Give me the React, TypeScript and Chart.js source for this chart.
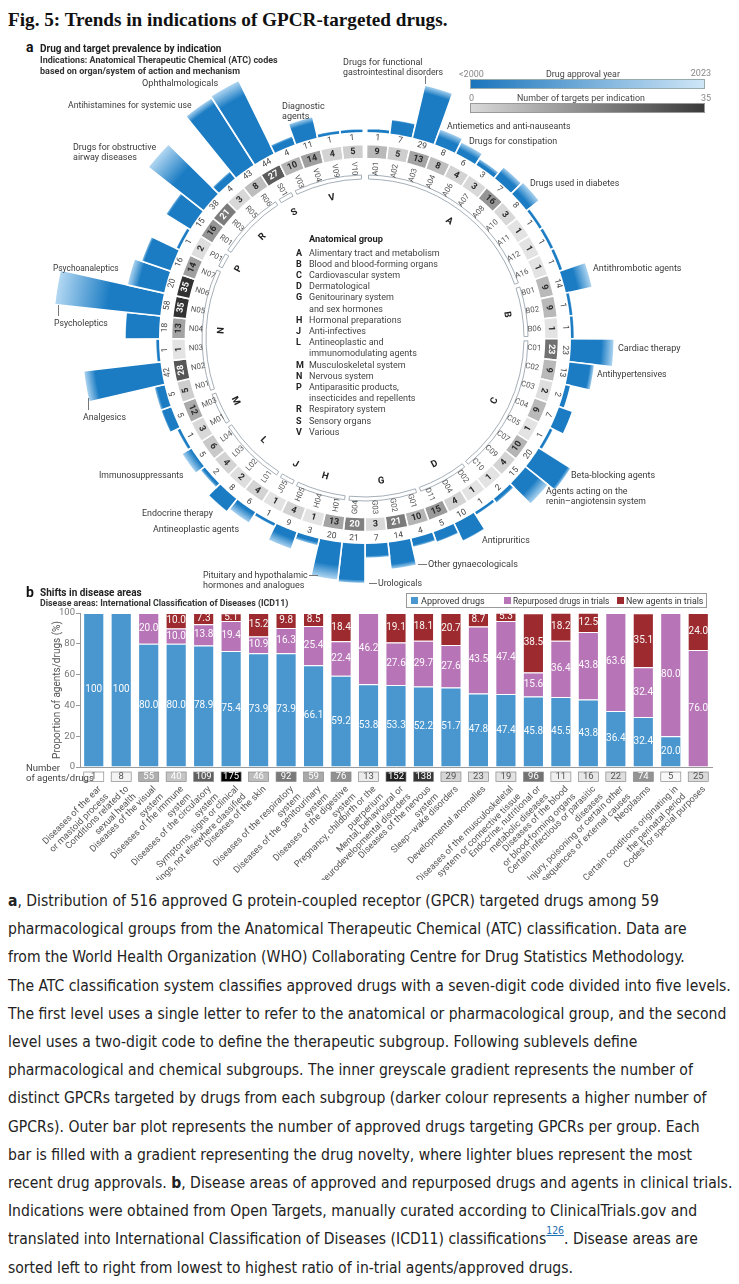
import React, { useEffect, useLayoutEffect, useRef } from 'react';
import { Chart, registerables } from 'chart.js';
Chart.register(...registerables);

// ---------------- Part a data (clockwise from top) ----------------
const atcCodes = [
  'A01', 'A02', 'A03', 'A04', 'A06', 'A07', 'A08', 'A10', 'A11', 'A12', 'A16',
  'B01', 'B02', 'B06',
  'C01', 'C02', 'C03', 'C04', 'C05', 'C07', 'C09', 'C10',
  'D02', 'D04', 'D11',
  'G01', 'G02', 'G03', 'G04',
  'H01', 'H04', 'H05',
  'J05',
  'L01', 'L02', 'L03', 'L04',
  'M01', 'M03',
  'N01', 'N02', 'N03', 'N04', 'N05', 'N06', 'N07',
  'P01',
  'R01', 'R03', 'R05', 'R06',
  'S01',
  'V03', 'V04', 'V09', 'V10',
];
const targetCounts = [
  9, 5, 13, 8, 4, 3, 16, 3, 1, 1, 1,
  9, 9, 1,
  23, 9, 2, 9, 1, 10, 4, 1,
  1, 4, 15,
  10, 21, 3, 20,
  13, 1, 4,
  1,
  4, 2, 4, 6,
  3, 12,
  5, 28, 1, 13, 35, 35, 14,
  2,
  16, 21, 3, 8,
  27,
  10, 14, 4, 5,
];
const drugCounts = [
  1, 7, 29, 8, 6, 3, 7, 8, 1, 1, 1,
  14, 1, 1,
  23, 13, 2, 7, 1, 20, 15, 2,
  1, 10, 5,
  4, 14, 7, 21,
  20, 3, 9,
  1,
  6, 8, 2, 5,
  1, 5,
  5, 42, 1, 18, 58, 20, 16,
  1,
  15, 38, 4, 43,
  44,
  4, 11, 1, 1,
];
// share of each bar that corresponds to recent approvals (lighter blue)
const recentShare = [
  0.2, 0.15, 0.15, 0.5, 0.6, 0.6, 0.5, 0.7, 0.5, 0.5, 0.5,
  0.55, 0.5, 0.5,
  0.3, 0.2, 0.3, 0.1, 0.5, 0.1, 0.45, 0.5,
  0.5, 0.1, 0.2,
  0.3, 0.2, 0.2, 0.1,
  0.4, 0.5, 0.6,
  0.5,
  0.8, 0.1, 0.6, 0.9,
  0.5, 0.2,
  0.3, 0.15, 0.5, 0.05, 0.5, 0.3, 0.1,
  0.5,
  0.1, 0.45, 0.3, 0.1,
  0.2,
  0.3, 0.3, 0.5, 0.5,
];
const groupLetters = ['A', 'B', 'C', 'D', 'G', 'H', 'J', 'L', 'M', 'N', 'P', 'R', 'S', 'V'];
const groupNames = [
  ['Alimentary tract and metabolism'],
  ['Blood and blood-forming organs'],
  ['Cardiovascular system'],
  ['Dermatological'],
  ['Genitourinary system', 'and sex hormones'],
  ['Hormonal preparations'],
  ['Anti-infectives'],
  ['Antineoplastic and', 'immunomodulating agents'],
  ['Musculoskeletal system'],
  ['Nervous system'],
  ['Antiparasitic products,', 'insecticides and repellents'],
  ['Respiratory system'],
  ['Sensory organs'],
  ['Various'],
];
const yearScale = ['<2000', '2023'];
const targetScale = ['0', '35'];

// ---------------- Part b data ----------------
const diseaseAreas: (string | string[])[] = [
  ['Diseases of the ear', 'or mastoid process'],
  ['Conditions related to', 'sexual health'],
  ['Diseases of the visual', 'system'],
  ['Diseases of the immune', 'system'],
  ['Diseases of the circulatory', 'system'],
  ['Symptoms, signs or clinical', 'findings, not elsewhere classified'],
  'Diseases of the skin',
  ['Diseases of the respiratory', 'system'],
  ['Diseases of the genitourinary', 'system'],
  ['Diseases of the digestive', 'system'],
  ['Pregnancy, childbirth or the', 'puerperium'],
  ['Mental, behavioural or', 'neurodevelopmental disorders'],
  ['Diseases of the nervous', 'system'],
  'Sleep–wake disorders',
  'Developmental anomalies',
  ['Diseases of the musculoskeletal', 'system or connective tissue'],
  ['Endocrine, nutritional or', 'metabolic diseases'],
  ['Diseases of the blood', 'or blood-forming organs'],
  ['Certain infectious or parasitic', 'diseases'],
  ['Injury, poisoning or certain other', 'consequences of external causes'],
  'Neoplasms',
  ['Certain conditions originating in', 'the perinatal period'],
  'Codes for special purposes',
];
const approvedPct = [100, 100, 80.0, 80.0, 78.9, 75.4, 73.9, 73.9, 66.1, 59.2, 53.8, 53.3, 52.2, 51.7, 47.8, 47.4, 45.8, 45.5, 43.8, 36.4, 32.4, 20.0, 0];
const repurposedPct = [0, 0, 20.0, 10.0, 13.8, 19.4, 10.9, 16.3, 25.4, 22.4, 46.2, 27.6, 29.7, 27.6, 43.5, 47.4, 15.6, 36.4, 43.8, 63.6, 32.4, 80.0, 76.0];
const newAgentPct = [0, 0, 0, 10.0, 7.3, 5.1, 15.2, 9.8, 8.5, 18.4, 0, 19.1, 18.1, 20.7, 8.7, 5.3, 38.5, 18.2, 12.5, 0, 35.1, 0, 24.0];
const agentCounts = [1, 8, 55, 40, 109, 175, 46, 92, 59, 76, 13, 152, 138, 29, 23, 19, 96, 11, 16, 22, 74, 5, 25];
const yTicks = [0, 20, 40, 60, 80, 100];
const seriesNames = ['Approved drugs', 'Repurposed drugs in trials', 'New agents in trials'];

// ---------------- styling ----------------
const SANS = "Roboto, 'Liberation Sans', Arial, sans-serif";
const BLUE_DARK = '#1b7cc3';
const BLUE_LIGHT = '#b5d9f3';
const C_APPROVED = '#4a97cf';
const C_REPURPOSED = '#b775b7';
const C_NEW = '#9c2a2e';
const GAP = 0.15;
const RING_OUTER = 193.5;
const RING_INNER = 159;

function greyFor(t: number) {
  const v = Math.round(232 - (t / 35) * (232 - 50));
  return `rgb(${v},${v},${v})`;
}

function drawTangential(c: CanvasRenderingContext2D, cx: number, cy: number, a: number, r: number, text: string, font: string, color: string) {
  let deg = (a * 180) / Math.PI % 360;
  if (deg < 0) deg += 360;
  let rot = a + Math.PI / 2;
  if (deg > 18 && deg < 162) rot -= Math.PI;
  c.save();
  c.translate(cx + Math.cos(a) * r, cy + Math.sin(a) * r);
  c.rotate(rot);
  c.font = font;
  c.fillStyle = color;
  c.textAlign = 'center';
  c.textBaseline = 'middle';
  c.fillText(text, 0, 0);
  c.restore();
}

function drawRadial(c: CanvasRenderingContext2D, cx: number, cy: number, a: number, r: number, text: string, font: string, color: string) {
  const cos = Math.cos(a);
  c.save();
  c.translate(cx + cos * r, cy + Math.sin(a) * r);
  if (cos >= 0) {
    c.rotate(a);
    c.textAlign = 'right';
  } else {
    c.rotate(a + Math.PI);
    c.textAlign = 'left';
  }
  c.font = font;
  c.fillStyle = color;
  c.textBaseline = 'middle';
  c.fillText(text, 0, 0);
  c.restore();
}

const polarOverlay = {
  id: 'polarOverlay',
  afterDatasetsDraw(chart: any) {
    const c = chart.ctx as CanvasRenderingContext2D;
    const sc = chart.scales.r;
    const cx = sc.xCenter, cy = sc.yCenter;
    c.save();
    c.beginPath();
    c.arc(cx, cy, 206, 0, Math.PI * 2);
    c.fillStyle = '#ffffff';
    c.fill();
    const meta = chart.getDatasetMeta(0);
    meta.data.forEach((arc: any, idx: number) => {
      if (idx === 0) return;
      const p = arc.getProps(['startAngle', 'endAngle'], true);
      const a = (p.startAngle + p.endAngle) / 2;
      drawTangential(c, cx, cy, a, 200.5, String(drugCounts[idx - 1]), `8.5px ${SANS}`, '#444');
    });
    c.restore();
  },
};

const ringLabels = {
  id: 'ringLabels',
  afterDatasetsDraw(chart: any) {
    const c = chart.ctx as CanvasRenderingContext2D;
    const m0 = chart.getDatasetMeta(0);
    m0.data.forEach((arc: any, idx: number) => {
      if (idx === 0) return;
      const k = idx - 1;
      const p = arc.getProps(['x', 'y', 'startAngle', 'endAngle', 'innerRadius', 'outerRadius'], true);
      const a = (p.startAngle + p.endAngle) / 2;
      const t = targetCounts[k];
      drawTangential(c, p.x, p.y, a, (p.innerRadius + p.outerRadius) / 2, String(t), `bold 9px ${SANS}`, t >= 20 ? '#ffffff' : '#2a2a2a');
      drawRadial(c, p.x, p.y, a, p.innerRadius - 3, atcCodes[k], `7.8px ${SANS}`, '#555');
    });
    const m2 = chart.getDatasetMeta(2);
    groupLetters.forEach((g, j) => {
      const arc = m2.data[2 + 3 * j];
      if (!arc) return;
      const p = arc.getProps(['x', 'y', 'startAngle', 'endAngle', 'innerRadius'], true);
      const a = (p.startAngle + p.endAngle) / 2;
      drawTangential(c, p.x, p.y, a, p.innerRadius - 15, g, `bold 9.5px ${SANS}`, '#222');
    });
  },
};

const barLabels = {
  id: 'barLabels',
  afterDatasetsDraw(chart: any) {
    const c = chart.ctx as CanvasRenderingContext2D;
    c.save();
    c.font = `10px ${SANS}`;
    c.fillStyle = 'rgba(255,255,255,0.96)';
    c.textAlign = 'center';
    c.textBaseline = 'middle';
    chart.data.datasets.forEach((ds: any, di: number) => {
      const meta = chart.getDatasetMeta(di);
      meta.data.forEach((el: any, i: number) => {
        const v = ds.data[i];
        if (!v) return;
        const p = el.getProps(['x', 'y', 'base'], true);
        c.fillText(v === 100 ? '100' : v.toFixed(1), p.x, (p.y + p.base) / 2);
      });
    });
    c.restore();
  },
  afterDraw(chart: any) {
    const c = chart.ctx as CanvasRenderingContext2D;
    const xs = chart.scales.x;
    const y0 = chart.chartArea.bottom + 5;
    c.save();
    c.font = `9.5px ${SANS}`;
    c.textAlign = 'center';
    c.textBaseline = 'middle';
    agentCounts.forEach((n, i) => {
      const x = xs.getPixelForValue(i);
      const v = Math.round(255 - (n / 175) * 255);
      c.fillStyle = `rgb(${v},${v},${v})`;
      c.fillRect(x - 10, y0, 20, 9.5);
      c.strokeStyle = '#8a8a8a';
      c.lineWidth = 0.7;
      c.strokeRect(x - 10, y0, 20, 9.5);
      c.fillStyle = n >= 40 ? '#ffffff' : '#555';
      c.fillText(String(n), x, y0 + 5);
    });
    c.restore();
  },
};

function Txt({ x, y, s = 9, b = false, c = '#333', al = 'left', f = SANS, w, children }: any) {
  const ref = useRef<HTMLSpanElement>(null);
  useLayoutEffect(() => {
    if (w && ref.current) {
      const nw = ref.current.offsetWidth;
      if (nw > 0) ref.current.style.transform = `scaleX(${w / nw})`;
    }
  }, [w]);
  const lh = Math.round(s * 1.25);
  const tx = al === 'center' ? 'translateX(-50%)' : al === 'right' ? 'translateX(-100%)' : undefined;
  return (
    <div style={{ position: 'absolute', left: x, top: y - lh / 2, fontSize: s, lineHeight: lh + 'px', fontWeight: b ? 700 : 400, color: c, whiteSpace: 'nowrap', fontFamily: f, transform: tx }}>
      <span ref={ref} style={{ display: 'inline-block', transformOrigin: '0 0' }}>{children}</span>
    </div>
  );
}

function Ln({ x, y, w = 1, h = 1, c = '#777' }: any) {
  return <div style={{ position: 'absolute', left: x, top: y, width: w, height: h, background: c }} />;
}

export default function App() {
  const polarRef = useRef<HTMLCanvasElement>(null);
  const ringRef = useRef<HTMLCanvasElement>(null);
  const barRef = useRef<HTMLCanvasElement>(null);
  const titleRef = useRef<HTMLSpanElement>(null);
  const capRef = useRef<HTMLDivElement>(null);
  const capLineRef = useRef<HTMLSpanElement>(null);

  useLayoutEffect(() => {
    document.body.style.margin = '0';
    if (titleRef.current) {
      const w = titleRef.current.offsetWidth;
      if (w > 0) titleRef.current.style.transform = `scaleX(${439 / w})`;
    }
    if (capLineRef.current && capRef.current) {
      const w = capLineRef.current.offsetWidth;
      if (w > 0) capRef.current.style.transform = `scaleX(${723 / w})`;
    }
  }, []);

  useEffect(() => {
    const n = atcCodes.length;
    const total = n + GAP;
    const gapDeg = (360 * GAP) / total;
    const start = -gapDeg / 2;
    const rMin = -115.5;
    const rMax = 62.3;

    const polar = new Chart(polarRef.current!, {
      type: 'polarArea',
      data: {
        labels: ['', ...atcCodes],
        datasets: [
          {
            data: [0, ...drugCounts],
            backgroundColor: (ctx: any) => {
              if (ctx.type !== 'data') return BLUE_DARK;
              const i = ctx.dataIndex;
              if (i === 0) return 'rgba(0,0,0,0)';
              const chart = ctx.chart;
              const sc = chart.scales.r;
              if (!sc || !isFinite(sc.xCenter)) return BLUE_DARK;
              const k = i - 1;
              const r1 = sc.getDistanceFromCenterForValue(drugCounts[k]);
              const r0 = 206;
              if (!(r1 > r0)) return BLUE_DARK;
              const g = chart.ctx.createRadialGradient(sc.xCenter, sc.yCenter, r0, sc.xCenter, sc.yCenter, r1);
              const f = Math.max(0, Math.min(1, 1 - recentShare[k]));
              g.addColorStop(0, BLUE_DARK);
              g.addColorStop(f, BLUE_DARK);
              g.addColorStop(1, BLUE_LIGHT);
              return g;
            },
            borderColor: (ctx: any) => (ctx.dataIndex === 0 ? 'rgba(0,0,0,0)' : '#ffffff'),
            borderWidth: 1.6,
            angle: (ctx: any) => (ctx.dataIndex === 0 ? gapDeg : 360 / total),
          } as any,
        ],
      },
      options: {
        responsive: false,
        animation: false,
        layout: { padding: 0 },
        plugins: { legend: { display: false }, tooltip: { enabled: false } },
        scales: { r: { display: false, min: rMin, max: rMax, startAngle: start } as any },
      },
      plugins: [polarOverlay],
    });

    const ones = atcCodes.map(() => 1);
    const groupSizes = groupLetters.map((g) => atcCodes.filter((cd) => cd[0] === g).length);
    const bracketData: number[] = [GAP];
    const bracketBg: string[] = ['rgba(0,0,0,0)'];
    const bracketBorder: string[] = ['rgba(0,0,0,0)'];
    const bracketBW: number[] = [0];
    groupSizes.forEach((s) => {
      bracketData.push(0.12, s - 0.24, 0.12);
      bracketBg.push('rgba(0,0,0,0)', '#ffffff', 'rgba(0,0,0,0)');
      bracketBorder.push('rgba(0,0,0,0)', '#9aa6b0', 'rgba(0,0,0,0)');
      bracketBW.push(0, 0.9, 0);
    });

    const ring = new Chart(ringRef.current!, {
      type: 'doughnut',
      data: {
        labels: ['', ...atcCodes],
        datasets: [
          {
            data: [GAP, ...ones],
            backgroundColor: ['rgba(0,0,0,0)', ...targetCounts.map(greyFor)],
            borderColor: ['rgba(0,0,0,0)', ...ones.map(() => '#ffffff')],
            borderWidth: 1.6,
            weight: 14,
          } as any,
          { data: [GAP, ...ones], backgroundColor: 'rgba(0,0,0,0)', borderWidth: 0, weight: 16.5 } as any,
          { data: bracketData, backgroundColor: bracketBg, borderColor: bracketBorder, borderWidth: bracketBW, weight: 4 } as any,
        ],
      },
      options: {
        responsive: false,
        animation: false,
        radius: RING_OUTER,
        cutout: ((RING_INNER / RING_OUTER) * 100).toFixed(3) + '%',
        rotation: start,
        plugins: { legend: { display: false }, tooltip: { enabled: false } },
      } as any,
      plugins: [ringLabels],
    });

    const bw = (ctx: any) => (ctx.raw ? 1 : 0);
    const bar = new Chart(barRef.current!, {
      type: 'bar',
      data: {
        labels: diseaseAreas as any,
        datasets: [
          { label: seriesNames[0], data: approvedPct, backgroundColor: C_APPROVED, borderColor: '#ffffff', borderWidth: bw, barPercentage: 0.77, categoryPercentage: 1 },
          { label: seriesNames[1], data: repurposedPct, backgroundColor: C_REPURPOSED, borderColor: '#ffffff', borderWidth: bw, barPercentage: 0.77, categoryPercentage: 1 },
          { label: seriesNames[2], data: newAgentPct, backgroundColor: C_NEW, borderColor: '#ffffff', borderWidth: bw, barPercentage: 0.77, categoryPercentage: 1 },
        ] as any,
      },
      options: {
        responsive: false,
        animation: false,
        layout: { padding: { top: 28, right: 27, left: 49, bottom: 0 } },
        plugins: { legend: { display: false }, tooltip: { enabled: false } },
        scales: {
          x: {
            stacked: true,
            grid: { display: false, drawTicks: false },
            border: { display: true, color: '#9a9a9a' },
            ticks: { autoSkip: false, maxRotation: 45, minRotation: 45, padding: 17, labelOffset: 6, font: { size: 9.2, family: SANS, lineHeight: 1.15 }, color: '#555' },
            afterFit: (s: any) => { s.height = 113; },
          },
          y: {
            stacked: true,
            min: 0,
            max: 100,
            afterBuildTicks: (s: any) => { s.ticks = yTicks.map((v) => ({ value: v })); },
            ticks: { font: { size: 9.5, family: SANS }, color: '#777', padding: 1 },
            grid: { drawOnChartArea: false, tickLength: 4, color: '#9a9a9a' },
            border: { color: '#9a9a9a' },
            title: { display: true, text: 'Proportion of agents/drugs (%)', font: { size: 10, family: SANS }, color: '#555', padding: { top: 2, bottom: 0 } },
            afterFit: (s: any) => { s.width = 31; },
          },
        } as any,
      },
      plugins: [barLabels],
    });

    return () => {
      polar.destroy();
      ring.destroy();
      bar.destroy();
    };
  }, []);

  const captionLines: React.ReactNode[] = [
    <><b>a</b>, Distribution of 516 approved G protein-coupled receptor (GPCR) targeted drugs among 59</>,
    <>pharmacological groups from the Anatomical Therapeutic Chemical (ATC) classification. Data are</>,
    <>from the World Health Organization (WHO) Collaborating Centre for Drug Statistics Methodology.</>,
    <>The ATC classification system classifies approved drugs with a seven-digit code divided into five levels.</>,
    <>The first level uses a single letter to refer to the anatomical or pharmacological group, and the second</>,
    <>level uses a two-digit code to define the therapeutic subgroup. Following sublevels define</>,
    <>pharmacological and chemical subgroups. The inner greyscale gradient represents the number of</>,
    <>distinct GPCRs targeted by drugs from each subgroup (darker colour represents a higher number of</>,
    <>GPCRs). Outer bar plot represents the number of approved drugs targeting GPCRs per group. Each</>,
    <>bar is filled with a gradient representing the drug novelty, where lighter blues represent the most</>,
    <>recent drug approvals. <b>b</b>, Disease areas of approved and repurposed drugs and agents in clinical trials.</>,
    <>Indications were obtained from Open Targets, manually curated according to ClinicalTrials.gov and</>,
    <>translated into International Classification of Diseases (ICD11) classifications<sup style={{ fontSize: 11, color: '#1f6fb5', textDecoration: 'underline', verticalAlign: 'top', lineHeight: '12px' }}>126</sup>. Disease areas are</>,
    <>sorted left to right from lowest to highest ratio of in-trial agents/approved drugs.</>,
  ];

  const ann = (t: string, x: number, y: number, w?: number) => <Txt key={t + x + y} x={x} y={y} s={9} c="#3a3a3a" w={w}>{t}</Txt>;

  return (
    <div style={{ position: 'relative', width: 739, height: 1284, background: '#fff', overflow: 'hidden' }}>
      {/* Title */}
      <div style={{ position: 'absolute', left: 8, top: 7, fontFamily: "'Liberation Serif', 'DejaVu Serif', serif", fontWeight: 700, fontSize: 19, lineHeight: '26px', color: '#111', whiteSpace: 'nowrap' }}>
        <span ref={titleRef} style={{ display: 'inline-block', transformOrigin: '0 0' }}>Fig. 5: Trends in indications of GPCR-targeted drugs.</span>
      </div>

      {/* Part a canvases */}
      <canvas ref={polarRef} width={640} height={640} style={{ position: 'absolute', left: 45, top: 18, width: 640, height: 640 }} />
      <canvas ref={ringRef} width={640} height={640} style={{ position: 'absolute', left: 45, top: 18, width: 640, height: 640 }} />

      {/* Part b canvas */}
      <canvas ref={barRef} width={739} height={295} style={{ position: 'absolute', left: 0, top: 585, width: 739, height: 295 }} />

      {/* Part a header */}
      <Txt x={26} y={47} s={14} b c="#111">a</Txt>
      <Txt x={40} y={48} s={10} b c="#222" w={181}>Drug and target prevalence by indication</Txt>
      <Txt x={40} y={60} s={9.3} b c="#333" w={238}>Indications: Anatomical Therapeutic Chemical (ATC) codes</Txt>
      <Txt x={40} y={71} s={9.3} b c="#333" w={200}>based on organ/system of action and mechanism</Txt>

      {/* Gradient legends */}
      <Txt x={459} y={74} s={9} c="#888">{yearScale[0]}</Txt>
      <Txt x={546} y={74} s={9.5} c="#444" w={74}>Drug approval year</Txt>
      <Txt x={711} y={73} s={9} c="#888" al="right">{yearScale[1]}</Txt>
      <div style={{ position: 'absolute', left: 470, top: 79, width: 233, height: 8, background: `linear-gradient(to right, #1a75bc, #cfe6f7)`, border: '0.8px solid #9aa' }} />
      <Txt x={469} y={98} s={9} c="#888">{targetScale[0]}</Txt>
      <Txt x={517} y={98} s={9.5} c="#444" w={128}>Number of targets per indication</Txt>
      <Txt x={711} y={98} s={9} c="#888" al="right">{targetScale[1]}</Txt>
      <div style={{ position: 'absolute', left: 470, top: 103, width: 233, height: 8, background: `linear-gradient(to right, #d9d9d9, #3a3a3a)`, border: '0.8px solid #999' }} />

      {/* Bar annotations */}
      {ann('Ophthalmologicals', 142, 83, 76)}
      {ann('Antihistamines for systemic use', 68, 105, 124)}
      {ann('Diagnostic', 282, 106)}
      {ann('agents', 282, 116)}
      {ann('Drugs for obstructive', 73, 147, 83)}
      {ann('airway diseases', 73, 157)}
      {ann('Psychoanaleptics', 53, 268, 66)}
      {ann('Psycholeptics', 54, 323, 54)}
      <Ln x={58} y={305} h={11} />
      {ann('Analgesics', 83, 417, 43)}
      <Ln x={88} y={398} h={12} />
      {ann('Immunosuppressants', 99, 475, 85)}
      {ann('Endocrine therapy', 142, 513, 71)}
      {ann('Antineoplastic agents', 153, 529, 86)}
      {ann('Pituitary and hypothalamic', 203, 575, 105)}
      {ann('hormones and analogues', 203, 585)}
      <Ln x={309} y={575} w={9} />
      {ann('Urologicals', 378, 583, 44)}
      <Ln x={369} y={583} w={8} />
      {ann('Other gynaecologicals', 428, 564, 90)}
      <Ln x={418} y={564} w={9} />
      {ann('Antipruritics', 482, 540, 48)}
      {ann('Agents acting on the', 546, 491, 82)}
      {ann('renin–angiotensin system', 546, 501, 100)}
      {ann('Beta-blocking agents', 571, 475, 84)}
      {ann('Antihypertensives', 597, 374, 70)}
      {ann('Cardiac therapy', 618, 348, 63)}
      {ann('Antithrombotic agents', 593, 268, 88)}
      {ann('Drugs used in diabetes', 530, 183, 89)}
      {ann('Drugs for constipation', 469, 141, 88)}
      {ann('Antiemetics and anti-nauseants', 447, 126, 124)}
      {ann('Drugs for functional', 343, 62, 79)}
      {ann('gastrointestinal disorders', 343, 72, 100)}
      <Ln x={425} y={76} h={8} />

      {/* Centre legend */}
      <Txt x={309} y={239} s={9.3} b c="#222">Anatomical group</Txt>
      {(() => {
        const rows: React.ReactNode[] = [];
        let y = 253;
        groupLetters.forEach((g, i) => {
          rows.push(<Txt key={'l' + g} x={296} y={y} s={9} b c="#222">{g}</Txt>);
          groupNames[i].forEach((line, li) => {
            rows.push(<Txt key={'n' + g + li} x={309} y={y} s={9} c="#444">{line}</Txt>);
            y += 11.2;
          });
        });
        return rows;
      })()}

      {/* Part b header */}
      <Txt x={26} y={592} s={14} b c="#111">b</Txt>
      <Txt x={40} y={592} s={10} b c="#222">Shifts in disease areas</Txt>
      <Txt x={40} y={603} s={9.3} b c="#333" w={248}>Disease areas: International Classification of Diseases (ICD11)</Txt>

      {/* Part b legend */}
      <div style={{ position: 'absolute', left: 406, top: 593, width: 301, height: 15, border: '0.8px solid #999', boxSizing: 'border-box' }} />
      {[C_APPROVED, C_REPURPOSED, C_NEW].map((col, i) => (
        <div key={col} style={{ position: 'absolute', left: [411, 504, 617][i], top: 597, width: 7, height: 7, background: col }} />
      ))}
      <Txt x={421} y={600.5} s={9.5} c="#333" w={64}>{seriesNames[0]}</Txt>
      <Txt x={513} y={600.5} s={9.5} c="#333" w={96}>{seriesNames[1]}</Txt>
      <Txt x={626} y={600.5} s={9.5} c="#333" w={77}>{seriesNames[2]}</Txt>

      <Txt x={26} y={768} s={9.5} c="#444">Number</Txt>
      <Txt x={26} y={778} s={9.5} c="#444">of agents/drugs</Txt>

      {/* Caption */}
      <div ref={capRef} style={{ position: 'absolute', left: 8, top: 887, transformOrigin: '0 0', fontFamily: "'Liberation Sans Narrow', 'DejaVu Sans Condensed', 'Liberation Sans', sans-serif", fontSize: 16.5, lineHeight: '28.2px', color: '#222' }}>
        {captionLines.map((ln, i) => (
          <div key={i} style={{ whiteSpace: 'nowrap' }}>
            <span ref={i === 3 ? capLineRef : undefined} style={{ display: 'inline-block' }}>{ln}</span>
          </div>
        ))}
      </div>
    </div>
  );
}
